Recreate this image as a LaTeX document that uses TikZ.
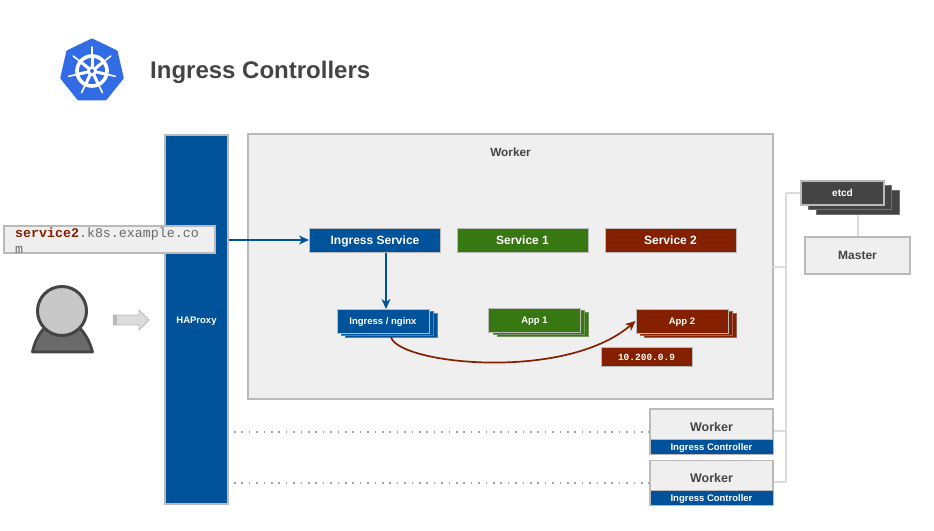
\documentclass[tikz,border=0pt]{standalone}
\usepackage{fontspec}
\setmainfont{Liberation Sans}
\setmonofont{Liberation Mono}
\usetikzlibrary{arrows.meta, calc}
\definecolor{k8sblue}{HTML}{326CE5}
\definecolor{ingblue}{HTML}{00529A}
\definecolor{svcgreen}{HTML}{377812}
\definecolor{svcred}{HTML}{842000}
\definecolor{dkgray}{HTML}{444444}
\definecolor{bodygray}{HTML}{6A6A6A}
\definecolor{headgray}{HTML}{C8C8C8}
\definecolor{edgegray}{HTML}{BABABA}
\definecolor{wiregray}{HTML}{DCDCDC}
\definecolor{dotgray}{HTML}{A0A0A0}
\definecolor{panel}{HTML}{EFEFEF}

\begin{document}
\begin{tikzpicture}[
  x=1pt, y=-1pt,
  >={Stealth[length=10pt, width=9pt, inset=3pt]},
  flatbox/.style={draw=edgegray, line width=1pt, inner sep=0pt, text depth=0pt, text height=7pt, font=\bfseries},
  svcbox/.style={flatbox, fill=#1, text=white, minimum width=131pt, minimum height=24pt, text height=8.5pt, font=\bfseries\fontsize{12}{14}\selectfont},
  appbox/.style={flatbox, fill=#1, text=white, minimum width=92pt, minimum height=24pt, font=\bfseries\fontsize{9.5}{11}\selectfont},
  backcopy/.style={fill=#1, draw=#1!55!edgegray, line width=0.8pt},
  graybox/.style={flatbox, fill=panel, text=dkgray, line width=1.6pt},
  ctlbox/.style={flatbox, fill=ingblue, text=white, minimum width=123pt, minimum height=15pt, font=\bfseries\fontsize{9.5}{11}\selectfont},
  workerlbl/.style={text=dkgray, inner sep=0pt, text depth=0pt, font=\bfseries\fontsize{12.5}{14}\selectfont},
  wire/.style={wiregray, line width=2.4pt},
  lanedots/.style={dotgray, line width=1.6pt, dash pattern=on 1.6pt off 5.8pt},
  flowline/.style={->, #1, line width=1.7pt},
]

\useasboundingbox (0,0) rectangle (934,530);

% ══════════════════════════════════════════════════════
% Logo and title
% ══════════════════════════════════════════════════════
\coordinate (hub) at (92,71);
\fill[k8sblue, draw=k8sblue, line width=3pt, line join=round]
  ($(hub)+(-90:31)$) -- ($(hub)+(-38.6:31)$) -- ($(hub)+(12.9:31)$) -- ($(hub)+(64.3:31)$)
  -- ($(hub)+(115.7:31)$) -- ($(hub)+(167.1:31)$) -- ($(hub)+(218.6:31)$) -- cycle;
\draw[white, line width=3.6pt] (hub) circle (15);
\foreach \a in {-90,-38.6,12.9,64.3,115.7,167.1,218.6} {
  \draw[white, line width=1.6pt, line cap=round] (hub) -- ($(hub)+(\a:24)$);
  \draw[white, line width=3pt] (hub) -- ($(hub)+(\a:15)$);
}
\fill[white] (hub) circle (5);
\fill[k8sblue] (hub) circle (2);

\node[anchor=west, text=dkgray, text depth=0pt, font=\bfseries\fontsize{24}{28}\selectfont, inner sep=0pt]
  (title) at (150,70) {Ingress Controllers};

% ══════════════════════════════════════════════════════
% Junctions of the wires on the right
% ══════════════════════════════════════════════════════
\coordinate (busTop) at (786,193);
\coordinate (busOne) at (786,431);
\coordinate (busTwo) at (786,482);

% ══════════════════════════════════════════════════════
% HAProxy and the big worker
% ══════════════════════════════════════════════════════
\node[flatbox, fill=ingblue, text=white, line width=1.6pt, minimum width=63pt, minimum height=369pt,
  font=\bfseries\fontsize{9.5}{11}\selectfont] (haproxy) at (196.5,319.5) {HAProxy};

\node[graybox, minimum width=525pt, minimum height=265pt] (worker) at (510.5,266.5) {};
\node[workerlbl, font=\bfseries\fontsize{11.8}{14}\selectfont] (workerLbl) at (510.5,152) {Worker};

% ══════════════════════════════════════════════════════
% Services
% ══════════════════════════════════════════════════════
\node[svcbox=ingblue] (ingress) at (375,240) {Ingress Service};
\node[svcbox=svcgreen] (svcOne) at (522.5,240) {Service 1};
\node[svcbox=svcred] (svcTwo) at (670.5,240) {Service 2};

% ══════════════════════════════════════════════════════
% Pods, each with two copies behind it
% ══════════════════════════════════════════════════════
\foreach \k in {2,1} {
  \draw[backcopy=ingblue] (337+4*\k,309+2.2*\k) rectangle ++(92,24);
  \draw[backcopy=svcgreen] (489+4*\k,308+2.2*\k) rectangle ++(91,24);
  \draw[backcopy=svcred] (636+4*\k,309+2.2*\k) rectangle ++(92,24);
}
\node[appbox=ingblue] (nginx) at (383,321) {Ingress / nginx};
\node[appbox=svcgreen] (appOne) at (534.5,320) {App 1};
\node[appbox=svcred] (appTwo) at (682,321) {App 2};

\node[flatbox, fill=svcred, text=white, minimum width=91pt, minimum height=19pt,
  font=\ttfamily\bfseries\fontsize{9.5}{11}\selectfont] (podIp) at (646.5,356.5) {10.200.0.9};

% ══════════════════════════════════════════════════════
% Client and request
% ══════════════════════════════════════════════════════
\fill[bodygray, draw=dkgray, line width=2.8pt, line join=round]
  (32.5,352) .. controls (36,334) and (48,320) .. (62,320) .. controls (76,320) and (88,334) .. (92.5,352) -- cycle;
\node[circle, fill=headgray, draw=dkgray, line width=3pt, minimum size=49pt, inner sep=0pt] (client) at (62,311) {};

\draw[fill=wiregray, draw=edgegray, line width=0.8pt]
  (113.5,315) -- (139,315) -- (139,310) -- (149,320) -- (139,330) -- (139,325) -- (113.5,325) -- cycle;
\fill[edgegray] (113.5,315) rectangle (117,325);

\node[flatbox, fill=panel, line width=1.4pt, minimum width=211pt, minimum height=27pt] (urlBox) at (109.5,239.5) {};
\node[anchor=north west, align=left, inner sep=0pt, text=dkgray!80, font=\ttfamily\fontsize{13.3}{16}\selectfont]
  (urlText) at (15,227.5) {\textcolor{svcred}{\textbf{service2}}.k8s.example.co\\m};

% ══════════════════════════════════════════════════════
% Arrows
% ══════════════════════════════════════════════════════
\coordinate (nginxTop) at (386,309);
\coordinate (nginxOut) at (391,337);
\draw[flowline=ingblue] (ingress.west -| haproxy.east) -- (ingress.west);
\draw[flowline=ingblue] (ingress.south -| nginxTop) -- (nginxTop);
\draw[flowline=svcred]
  (nginxOut) .. controls (398,364) and (565,382) .. (appTwo.west);

% ══════════════════════════════════════════════════════
% Other workers and master
% ══════════════════════════════════════════════════════
\draw[lanedots] (234,432) -- (650,432);
\draw[lanedots] (234,483) -- (650,483);

\draw[wire] (busTop) -- (busTwo);
\draw[wire] (773,267) -- (786,267);
\draw[wire] (773,431) -- (busOne);
\draw[wire] (773,482) -- (busTwo);
\draw[wire] (801,193) -- (busTop);
\draw[wire] (858,205) -- (858,237);

\foreach \k in {2,1} {
  \draw[fill=dkgray, draw=dkgray!60!edgegray, line width=0.8pt] (801+7.5*\k,181+4.5*\k) rectangle ++(83,24);
}
\node[flatbox, fill=dkgray, text=white, line width=1.6pt, minimum width=83pt, minimum height=24pt,
  font=\bfseries\fontsize{10}{12}\selectfont] (etcd) at (842.5,193) {etcd};
\node[graybox, minimum width=105pt, minimum height=37pt, text height=8.5pt, font=\bfseries\fontsize{12}{14}\selectfont]
  (master) at (857.5,255.5) {Master};

\node[graybox, minimum width=123pt, minimum height=45pt] (nodeOne) at (711.5,431.5) {};
\node[workerlbl] (nodeOneLbl) at (711.5,426.5) {Worker};
\node[ctlbox] (ctlOne) at (711.5,446.5) {Ingress Controller};

\node[graybox, minimum width=123pt, minimum height=45pt] (nodeTwo) at (711.5,483) {};
\node[workerlbl] (nodeTwoLbl) at (711.5,477.5) {Worker};
\node[ctlbox] (ctlTwo) at (711.5,498) {Ingress Controller};

\end{tikzpicture}
\end{document}
